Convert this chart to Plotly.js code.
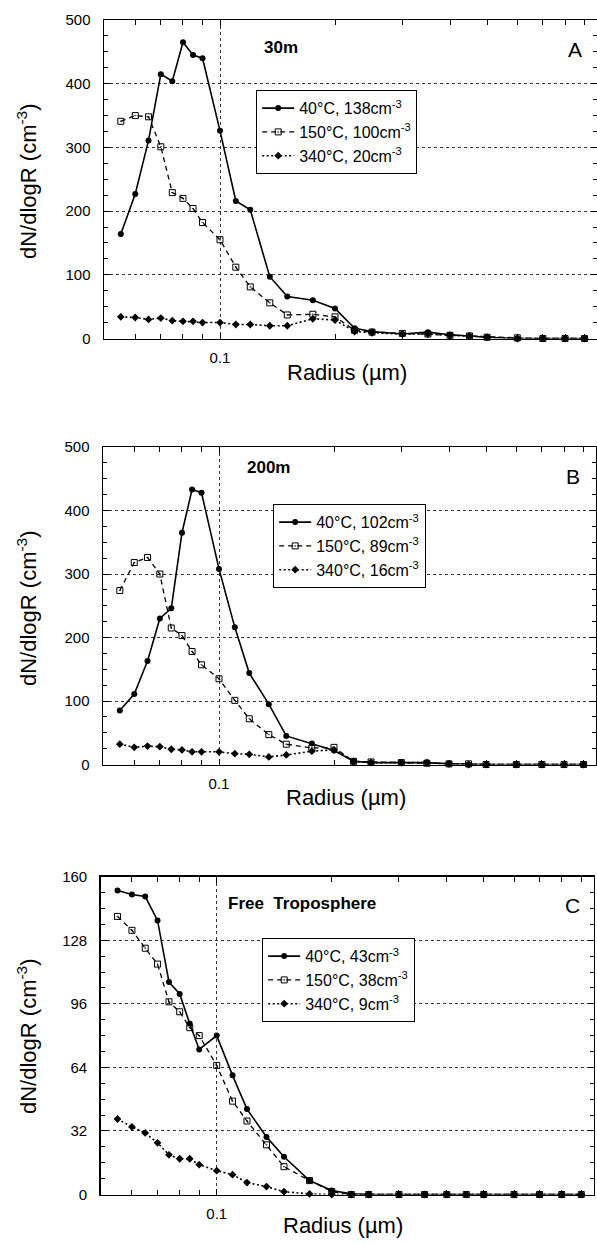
<!DOCTYPE html>
<html>
<head>
<meta charset="utf-8">
<script src="https://cdn.plot.ly/plotly-3.0.1.min.js"></script>
<style>html,body{margin:0;padding:0;background:#fff;}#chart{width:597px;height:1243px;}</style>
</head>
<body>
<div id="chart"></div>
<script>
// ---- data ----
const radius = [0.055,0.06,0.065,0.07,0.075,0.08,0.085,0.09,0.1,0.11,0.12,0.135,0.15,0.175,0.2,0.225,0.25,0.3,0.35,0.4,0.45,0.5,0.6,0.7,0.8,0.9];

const A_40  = [164,227,311,415,404,465,445,440,326,216,202,97,66,60,47,16,11,7,10,6,4,2,0,0,0,0];
const A_150 = [341,350,348,301,229,220,204,182,155,112,81,56,37,38,34,13,10,8,7,5,4,2,1,0,0,0];
const A_340 = [34,33,30,32,28,27,27,25,25,22,22,20,20,31,29,11,9,7,7,5,4,2,0,0,0,0];

const B_40  = [85,111,163,230,246,365,433,428,308,216,144,95,45,33,22,5,3,3,3,1,0,0,0,0,0,0];
const B_150 = [274,318,326,300,215,203,178,157,135,101,72,47,32,26,27,5,4,3,2,1,1,0,0,0,0,0];
const B_340 = [32,27,29,28,24,23,20,20,20,17,16,12,15,21,23,5,3,3,3,1,0,0,0,0,0,0];

const C_40  = [153,151,150,138,107,101,86,73,80,60,43,29,19,7,2,0.3,0,0,0,0,0,0,0,0,0,0];
const C_150 = [140,133,124,116,97,92,84,80,65,47,37,25,14,7,1.5,0,0,0,0,0,0,0,0,0,0,0];
const C_340 = [38,34,31,26,20,18,18,15,12,10,6,4,1.4,0.3,0,0,0,0,0,0,0,0,0,0,0,0];

const namesA = ["40°C, 138cm<sup>-3</sup>","150°C, 100cm<sup>-3</sup>","340°C, 20cm<sup>-3</sup>"];
const namesB = ["40°C, 102cm<sup>-3</sup>","150°C, 89cm<sup>-3</sup>","340°C, 16cm<sup>-3</sup>"];
const namesC = ["40°C, 43cm<sup>-3</sup>","150°C, 38cm<sup>-3</sup>","340°C, 9cm<sup>-3</sup>"];

const panelLabels = ["30m","200m","Free\u00a0\u00a0Troposphere"];
const panelLetters = ["A","B","C"];

const yTicksAB = [0,100,200,300,400,500];
const yTicksC  = [0,32,64,96,128,160];
const xTickVals = [0.1];
const xTickText = ["0.1"];
const xMinorVals = [0.06,0.07,0.08,0.09,0.2,0.3,0.4,0.5,0.6,0.7,0.8,0.9];

const yTitle = "dN/dlogR (cm<sup>-3</sup>)";
const xTitle = "Radius (µm)";

// ---- styles ----
const FONT = "Liberation Sans, Arial, Helvetica, sans-serif";
const W = 597, H = 1243;
const styles = [
  {line:{color:"#000",width:1.6,dash:"solid"}, marker:{symbol:"circle",size:6,color:"#000"}},
  {line:{color:"#000",width:1.3,dash:"5px,4px"}, marker:{symbol:"square-open-dot",size:6,color:"#000",line:{width:1,color:"#000"}}},
  {line:{color:"#000",width:1.6,dash:"2px,2.5px"}, marker:{symbol:"diamond",size:6,color:"#000"}}
];

const panels = [
  {ys:[A_40,A_150,A_340], names:namesA, xd:[104,597], yd:[20,338.5], yr:[0,500], yt:yTicksAB, ym:25,
   leg:[256,90], lab:[262,47], let:[575,50], yc:181, xtc:[347,372]},
  {ys:[B_40,B_150,B_340], names:namesB, xd:[103,596], yd:[447,764.5], yr:[0,500], yt:yTicksAB, ym:25,
   leg:[273,504], lab:[245,468], let:[573,477], yc:608, xtc:[346,797]},
  {ys:[C_40,C_150,C_340], names:namesC, xd:[100.7,593.7], yd:[876.7,1194.5], yr:[0,160], yt:yTicksC, ym:8,
   leg:[262,938], lab:[226,903], let:[572,905], yc:1036, xtc:[343,1225]}
];

const data = [];
const layout = {
  width: W, height: H,
  margin: {l:0,r:0,t:0,b:0},
  paper_bgcolor:"#fff", plot_bgcolor:"#fff",
  font:{family:FONT, color:"#000", size:15},
  annotations: [],
  showlegend: true
};

const xr = [Math.log10(0.0497), Math.log10(0.97)];

panels.forEach((p, i) => {
  const n = i === 0 ? "" : String(i+1);
  const xa = "x"+n, ya = "y"+n;
  const legKey = "legend"+n;
  p.ys.forEach((ys, k) => {
    data.push({
      type:"scatter", mode:"lines+markers",
      x: radius, y: ys, name: p.names[k],
      xaxis: xa, yaxis: ya, legend: legKey,
      line: styles[k].line, marker: styles[k].marker,
      cliponaxis: false
    });
  });
  layout["xaxis"+n] = {
    type:"log", range: xr, domain:[p.xd[0]/W, p.xd[1]/W], anchor: ya,
    tickmode:"array", tickvals: xTickVals, ticktext: xTickText,
    ticks:"inside", ticklen:6, tickwidth:1, tickcolor:"#000",
    showline:true, linecolor:"#000", linewidth:1.5, mirror:"ticks",
    showgrid:true, gridcolor:"#333", gridwidth:1, griddash:"dot",
    zeroline:false, tickfont:{size:15, family:FONT}, ticklabelstandoff:5,
    minor:{tickmode:"array", tickvals:xMinorVals, ticks:"inside", ticklen:5, tickcolor:"#000", showgrid:false}
  };
  layout["yaxis"+n] = {
    range: p.yr, domain:[1-p.yd[1]/H, 1-p.yd[0]/H], anchor: xa,
    tickmode:"array", tickvals: p.yt,
    ticks:"inside", ticklen:6, tickwidth:1, tickcolor:"#000",
    showline:true, linecolor:"#000", linewidth:1.5, mirror:"ticks",
    showgrid:true, gridcolor:"#333", gridwidth:1, griddash:"dot",
    zeroline:false, tickfont:{size:15, family:FONT}, ticklabelstandoff:9,
    minor:{dtick:p.ym, ticks:"inside", ticklen:4, tickcolor:"#000", showgrid:false}
  };
  layout[legKey] = {
    x: p.leg[0]/W, y: 1-p.leg[1]/H, xanchor:"left", yanchor:"top",
    xref:"paper", yref:"paper",
    bgcolor:"#fff", bordercolor:"#000", borderwidth:1.2,
    font:{size:16, family:FONT, color:"#000"}, itemwidth:32, tracegroupgap:0
  };
  layout.annotations.push(
    {text:"<b>"+panelLabels[i]+"</b>", xref:"paper", yref:"paper", x:p.lab[0]/W, y:1-p.lab[1]/H,
     xanchor:"left", yanchor:"middle", showarrow:false, font:{size:17, family:FONT}},
    {text:panelLetters[i], xref:"paper", yref:"paper", x:p.let[0]/W, y:1-p.let[1]/H,
     xanchor:"center", yanchor:"middle", showarrow:false, font:{size:21, family:FONT}},
    {text:yTitle, xref:"paper", yref:"paper", x:27/W, y:1-p.yc/H, textangle:-90,
     xanchor:"center", yanchor:"middle", showarrow:false, font:{size:22, family:FONT}},
    {text:xTitle, xref:"paper", yref:"paper", x:p.xtc[0]/W, y:1-p.xtc[1]/H,
     xanchor:"center", yanchor:"middle", showarrow:false, font:{size:22, family:FONT}}
  );
});

Plotly.newPlot("chart", data, layout, {displayModeBar:false, staticPlot:true});
</script>
</body>
</html>
